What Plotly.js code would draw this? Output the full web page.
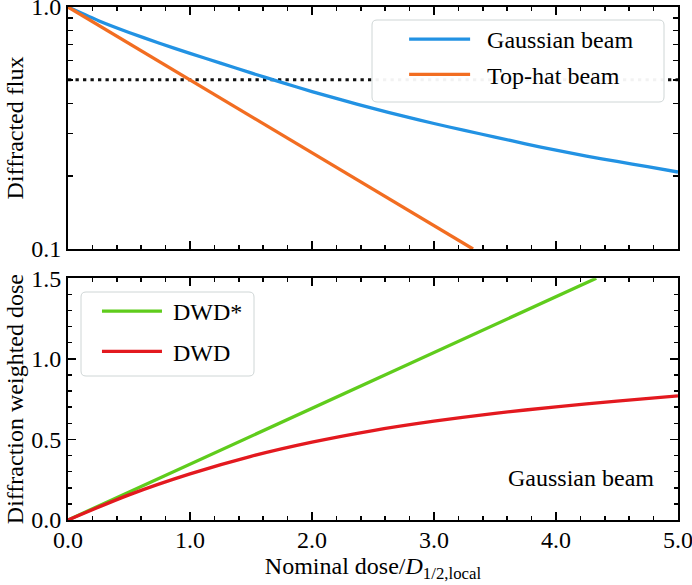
<!DOCTYPE html>
<html><head><meta charset="utf-8">
<script src="https://cdn.plot.ly/plotly-3.0.1.min.js"></script>
<style>html,body{margin:0;padding:0;background:#fff}#chart{width:692px;height:585px}</style>
</head><body><div id="chart"></div>
<script>
// ---- data ----
const gaussDose = [0, 0.25, 0.5, 0.75, 1.0, 1.25, 1.5, 1.75, 2.0, 2.25, 2.5, 2.75, 3.0, 3.25, 3.5, 3.75, 4.0, 4.25, 4.5, 4.75, 5.0];
const gaussianFlux = [1.0, 0.878, 0.785, 0.708, 0.643, 0.586, 0.534, 0.488, 0.447, 0.412, 0.381, 0.354, 0.330, 0.309, 0.290, 0.272, 0.256, 0.242, 0.230, 0.219, 0.208];
const topHatDose = [0, 1, 2, 3, 3.32];
const topHatFlux = [1.0, 0.5, 0.25, 0.125, 0.1];
const halfLevelDose = [0, 5];
const halfLevelFlux = [0.5, 0.5];
const dwdStarDose = [0, 1, 2, 3, 4, 4.33];
const dwdStarValue = [0, 0.347, 0.693, 1.04, 1.386, 1.5];
const dwdDose = [0, 0.5, 1.0, 1.5, 2.0, 2.5, 3.0, 3.5, 4.0, 4.5, 5.0];
const dwdValue = [0, 0.156, 0.286, 0.395, 0.483, 0.555, 0.613, 0.662, 0.702, 0.738, 0.770];
const fluxTickVals = [0.1, 1.0];
const fluxTickText = ['0.1', '1.0'];
const fluxMinorVals = [0.2, 0.3, 0.4, 0.5, 0.6, 0.7, 0.8, 0.9];
const seriesNames = ['Gaussian beam', 'Top-hat beam', 'DWD*', 'DWD'];

const FONT = '"Liberation Serif", serif';
const NB = '\u00a0';
const colors = {blue: '#2292e3', orange: '#f26d21', green: '#5fcc1c', red: '#e3191f'};

const traces = [
  {x: halfLevelDose, y: halfLevelFlux, xaxis: 'x', yaxis: 'y', mode: 'lines', showlegend: false,
   line: {color: '#111', width: 3, dash: '3.3px,4.2px'}, hoverinfo: 'skip'},
  {x: gaussDose, y: gaussianFlux, xaxis: 'x', yaxis: 'y', mode: 'lines', name: NB + NB + seriesNames[0],
   legend: 'legend', legendgroup: 'g1', line: {color: colors.blue, width: 3.3, shape: 'spline', smoothing: 0.6}},
  {x: topHatDose, y: topHatFlux, xaxis: 'x', yaxis: 'y', mode: 'lines', name: NB + NB + seriesNames[1],
   legend: 'legend', legendgroup: 'g2', line: {color: colors.orange, width: 3.3}},
  {x: dwdStarDose, y: dwdStarValue, xaxis: 'x2', yaxis: 'y2', mode: 'lines', name: NB + seriesNames[2],
   legend: 'legend2', legendgroup: 'g3', line: {color: colors.green, width: 3.3}},
  {x: dwdDose, y: dwdValue, xaxis: 'x2', yaxis: 'y2', mode: 'lines', name: NB + seriesNames[3],
   legend: 'legend2', legendgroup: 'g4', line: {color: colors.red, width: 3.3, shape: 'spline', smoothing: 0.8}}
];

const axBase = {
  showline: true, linewidth: 2, linecolor: '#000', mirror: 'ticks', showgrid: false, zeroline: false,
  ticks: 'inside', tickcolor: '#000', tickwidth: 1.5, ticklabeloverflow: 'allow',
  tickfont: {family: FONT, size: 24, color: '#000'}
};

function roundedBox(x0, y0, x1, y1, r) {
  // pixel coords -> paper fractions (plot area: x 68..678, y 7..520)
  const px = v => (v - 68) / 610, py = v => (520 - v) / 513;
  return 'M' + px(x0 + r) + ',' + py(y0) + ' L' + px(x1 - r) + ',' + py(y0) +
    ' Q' + px(x1) + ',' + py(y0) + ' ' + px(x1) + ',' + py(y0 + r) +
    ' L' + px(x1) + ',' + py(y1 - r) +
    ' Q' + px(x1) + ',' + py(y1) + ' ' + px(x1 - r) + ',' + py(y1) +
    ' L' + px(x0 + r) + ',' + py(y1) +
    ' Q' + px(x0) + ',' + py(y1) + ' ' + px(x0) + ',' + py(y1 - r) +
    ' L' + px(x0) + ',' + py(y0 + r) +
    ' Q' + px(x0) + ',' + py(y0) + ' ' + px(x0 + r) + ',' + py(y0) + ' Z';
}

const layout = {
  width: 692, height: 585,
  margin: {l: 68, r: 14, t: 7, b: 65},
  paper_bgcolor: '#fff', plot_bgcolor: '#fff',
  font: {family: FONT, color: '#000', size: 24},
  xaxis: Object.assign({}, axBase, {
    domain: [0, 1], anchor: 'y', range: [0, 5], dtick: 1, tick0: 0, ticklen: 8,
    showticklabels: false, matches: 'x2',
    minor: {ticks: 'inside', ticklen: 4, dtick: 0.2, tick0: 0, tickwidth: 1.5, tickcolor: '#000'}
  }),
  yaxis: Object.assign({}, axBase, {
    domain: [0.5283, 1], anchor: 'x', type: 'log', range: [-1, 0],
    tickmode: 'array', tickvals: fluxTickVals, ticktext: fluxTickText, ticklen: 6,
    minor: {ticks: 'inside', ticklen: 5, tickmode: 'array', tickvals: fluxMinorVals, tickwidth: 1.5, tickcolor: '#000'},
    title: {text: 'Diffracted flux', font: {family: FONT, size: 24, color: '#000'}, standoff: 1}
  }),
  xaxis2: Object.assign({}, axBase, {
    domain: [0, 1], anchor: 'y2', range: [0, 5], dtick: 1, tick0: 0, ticklen: 8, tickformat: '.1f',
    ticklabelstandoff: -3,
    minor: {ticks: 'inside', ticklen: 4, dtick: 0.2, tick0: 0, tickwidth: 1.5, tickcolor: '#000'},
    title: {text: 'Nominal dose/<i>D</i><sub>1/2,local</sub>', font: {family: FONT, size: 24, color: '#000'}, standoff: 3}
  }),
  yaxis2: Object.assign({}, axBase, {
    domain: [0, 0.4712], anchor: 'x2', range: [0, 1.5], dtick: 0.5, tick0: 0, ticklen: 8, tickformat: '.1f',
    minor: {ticks: 'inside', ticklen: 4, dtick: 0.1, tick0: 0, tickwidth: 1.5, tickcolor: '#000'},
    title: {text: 'Diffraction weighted dose', font: {family: FONT, size: 24, color: '#000'}, standoff: 1}
  }),
  legend: {
    x: 0.551, y: 0.9805, xanchor: 'left', yanchor: 'top',
    bgcolor: 'rgba(0,0,0,0)', borderwidth: 0,
    font: {family: FONT, size: 24, color: '#000'}, itemwidth: 61, tracegroupgap: 1
  },
  legend2: {
    x: 0.0475, y: 0.4503, xanchor: 'left', yanchor: 'top',
    bgcolor: 'rgba(0,0,0,0)', borderwidth: 0,
    font: {family: FONT, size: 24, color: '#000'}, itemwidth: 60, tracegroupgap: 6
  },
  shapes: [
    {type: 'path', xref: 'paper', yref: 'paper', layer: 'above', path: roundedBox(372, 20, 664, 102, 5),
     fillcolor: 'rgba(255,255,255,0.95)', line: {color: '#cfd6d6', width: 1}},
    {type: 'path', xref: 'paper', yref: 'paper', layer: 'above', path: roundedBox(81, 292, 254, 376, 5),
     fillcolor: 'rgba(255,255,255,0.95)', line: {color: '#cfd6d6', width: 1}}
  ],
  annotations: [
    {xref: 'x2', yref: 'y2', x: 4.82, y: 0.26, xanchor: 'right', yanchor: 'middle', showarrow: false,
     text: 'Gaussian beam', font: {family: FONT, size: 24, color: '#000'}}
  ],
  showlegend: true
};

Plotly.newPlot('chart', traces, layout, {staticPlot: true, displayModeBar: false});
</script></body></html>
